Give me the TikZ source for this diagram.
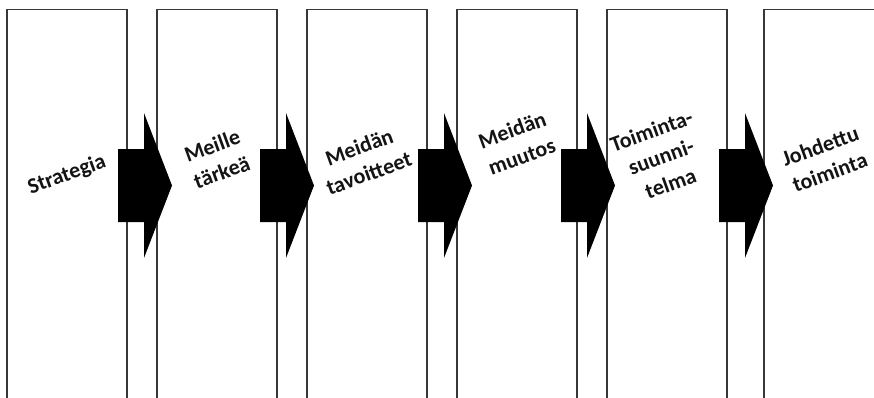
\documentclass[tikz,border=0pt]{standalone}
\usepackage{fontspec}
\setmainfont{Carlito}
\tikzset{
  panel/.style={draw=black!78, line width=1.4pt, fill=white, minimum width=120pt,
    minimum height=440pt, anchor=north west, inner sep=0pt, outer sep=0pt},
  steplabel/.style={font=\bfseries\fontsize{22}{28}\selectfont, align=center,
    rotate=20, text=black!92, inner sep=0pt},
  blockarrow/.pic={\fill[black] (0,-36.5) -- (26,-36.5) -- (26,-72.5) -- (54,0)
    -- (26,72.5) -- (26,36.5) -- (0,36.5) -- cycle;}
}
\begin{document}
\begin{tikzpicture}[x=1pt,y=-1pt]
\useasboundingbox (0,0) rectangle (874,397);
\clip (0,0) rectangle (874,397);
\fill[white] (0,0) rectangle (874,397);
% panels
\node[panel] (p1) at (7,9.5) {};
\node[panel] (p2) at (157,9.5) {};
\node[panel] (p3) at (307,9.5) {};
\node[panel] (p4) at (457,9.5) {};
\node[panel] (p5) at (607,9.5) {};
\node[panel] (p6) at (764,9.5) {};
% arrows
\pic (a1) at (118,185.5) {blockarrow};
\pic (a2) at (260,185.5) {blockarrow};
\pic (a3) at (418,185.5) {blockarrow};
\pic (a4) at (561,185.5) {blockarrow};
\pic (a5) at (719,185.5) {blockarrow};
% labels
\node[steplabel] (t1) at (67,175) {Strategia};
\node[steplabel] (t2) at (217,159) {Meille\\tärkeä};
\node[steplabel] (t3) at (364,160) {Meidän\\tavoitteet};
\node[steplabel] (t4) at (517,143) {Meidän\\muutos};
\node[steplabel] (t5) at (661,157) {Toiminta-\\suunni-\\telma};
\node[steplabel] (t6) at (825,159) {Johdettu\\toiminta};
\end{tikzpicture}
\end{document}
